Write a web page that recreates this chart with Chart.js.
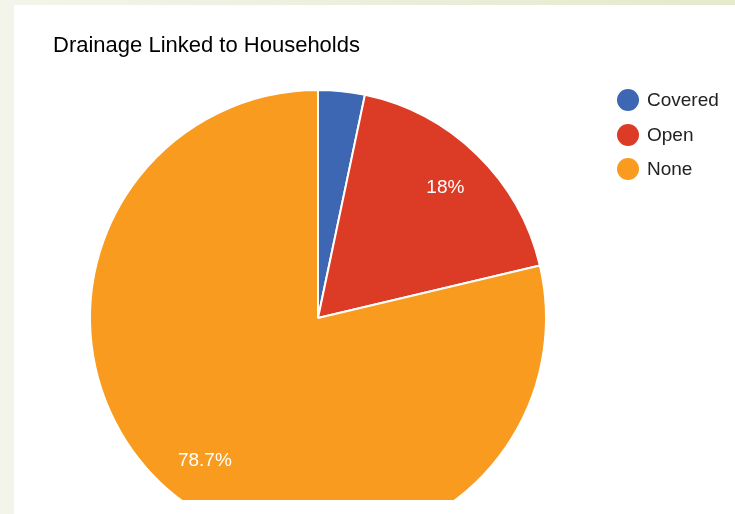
<!DOCTYPE html>
<html>
<head>
<meta charset="utf-8">
<script src="https://cdn.jsdelivr.net/npm/chart.js@4.4.1/dist/chart.umd.min.js"></script>
<style>
    html, body { margin: 0; padding: 0; }
    body {
        width: 735px; height: 514px; overflow: hidden; position: relative;
        background: linear-gradient(90deg, #f3f5ea 0%, #e9eed8 60%, #e4eacc 100%);
        font-family: "Liberation Sans", Arial, sans-serif;
    }
    #panel { position: absolute; left: 14px; top: 5px; right: 0; bottom: 0; background: #fff; }
    #clip { position: absolute; left: 0; top: 0; width: 735px; height: 500px; overflow: hidden; }
    #pie { position: absolute; left: 0; top: 0; }
    #title { position: absolute; left: 53px; top: 32px; font-size: 22px; color: #000; white-space: nowrap; }
    #legend { position: absolute; left: 617px; top: 89px; font-size: 19px; color: #222; }
    .item { height: 34.5px; display: flex; align-items: flex-start; }
    .dot { width: 22px; height: 22px; border-radius: 50%; margin-right: 8px; }
    .item span { line-height: 22px; }
</style>
</head>
<body>
<div id="panel"></div>
<div id="clip"><canvas id="pie" width="636" height="636"></canvas></div>
<div id="title">Drainage Linked to Households</div>
<div id="legend"></div>
<script>
// --- Data ---
const labels = ['Covered', 'Open', 'None'];
const shares = [3.3, 18, 78.7];
const colors = ['#3e67b3', '#dc3b25', '#f89b1f'];

// Legend from the same arrays
const legendBox = document.getElementById('legend');
labels.forEach((name, i) => {
    const row = document.createElement('div');
    row.className = 'item';
    row.innerHTML = `<div class="dot" style="background:${colors[i]}"></div><span>${name}</span>`;
    legendBox.appendChild(row);
});

// Percent labels inside the slices
const sliceLabels = {
    id: 'sliceLabels',
    afterDatasetsDraw(chart) {
        const ctx = chart.ctx;
        const total = shares.reduce((a, b) => a + b, 0);
        chart.getDatasetMeta(0).data.forEach((arc, i) => {
            const pct = shares[i] / total * 100;
            if (pct < 5) return;
            const mid = (arc.startAngle + arc.endAngle) / 2;
            const r = arc.outerRadius * 0.8;
            ctx.save();
            ctx.fillStyle = '#fff';
            ctx.font = '19px "Liberation Sans", Arial, sans-serif';
            ctx.textAlign = 'center';
            ctx.textBaseline = 'middle';
            ctx.fillText(shares[i] + '%', arc.x + Math.cos(mid) * r, arc.y + Math.sin(mid) * r);
            ctx.restore();
        });
    }
};

new Chart(document.getElementById('pie').getContext('2d'), {
    type: 'pie',
    data: {
        labels: labels,
        datasets: [{
            data: shares,
            backgroundColor: colors,
            borderColor: '#fff',
            borderWidth: 2,
            radius: 228
        }]
    },
    options: {
        responsive: false,
        animation: false,
        layout: { padding: 0 },
        plugins: { legend: { display: false }, tooltip: { enabled: false }, title: { display: false } }
    },
    plugins: [sliceLabels]
});
</script>
</body>
</html>
